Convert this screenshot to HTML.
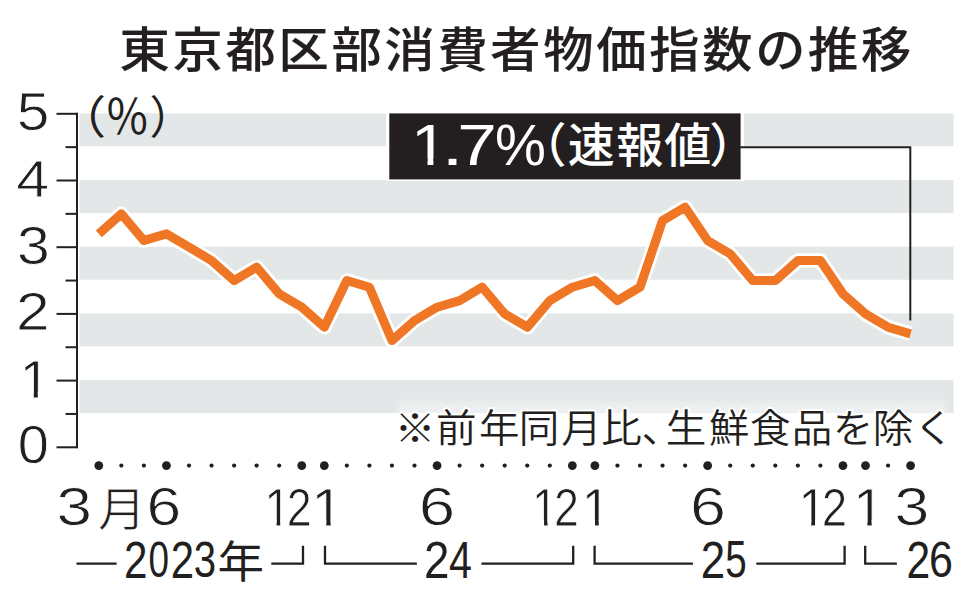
<!DOCTYPE html>
<html lang="ja"><head><meta charset="utf-8"><title>東京都区部消費者物価指数の推移</title><style>
html,body{margin:0;padding:0;background:#fff;}
svg{display:block;}
</style></head><body>
<svg width="978" height="600" viewBox="0 0 978 600">
<defs><clipPath id="k0" clipPathUnits="userSpaceOnUse"><rect x="-34.6" y="-81.16" width="162.33" height="75.21"/><rect x="-34.6" y="-5.95" width="57.36" height="27.05"/><rect x="33.49" y="-5.95" width="4.02" height="27.05"/><rect x="47.65" y="-5.95" width="80.08" height="27.05"/></clipPath><clipPath id="k1" clipPathUnits="userSpaceOnUse"><rect x="350.97" y="78.31" width="478.26" height="80.23"/><rect x="350.97" y="158.54" width="63.96" height="60"/><rect x="427.53" y="158.54" width="5.87" height="60"/><rect x="445.28" y="158.54" width="383.95" height="60"/></clipPath><filter id="soft" x="-5%" y="-50%" width="110%" height="200%"><feGaussianBlur stdDeviation="2.5"/></filter><clipPath id="k2" clipPathUnits="userSpaceOnUse"><rect x="204.24" y="444.4" width="202.49" height="75.62"/><rect x="204.24" y="520.02" width="62.88" height="60"/><rect x="276.64" y="520.02" width="3.56" height="60"/><rect x="289.19" y="520.02" width="117.54" height="60"/></clipPath><clipPath id="k3" clipPathUnits="userSpaceOnUse"><rect x="237.56" y="-81.6" width="163.2" height="75.62"/><rect x="237.56" y="-5.98" width="57.66" height="27.2"/><rect x="306.02" y="-5.98" width="4.04" height="27.2"/><rect x="320.25" y="-5.98" width="80.51" height="27.2"/></clipPath><clipPath id="k4" clipPathUnits="userSpaceOnUse"><rect x="472.12" y="444.4" width="201.91" height="75.62"/><rect x="472.12" y="520.02" width="62.77" height="60"/><rect x="544.07" y="520.02" width="3.43" height="60"/><rect x="556.16" y="520.02" width="117.87" height="60"/></clipPath><clipPath id="k5" clipPathUnits="userSpaceOnUse"><rect x="577" y="-81.6" width="163.2" height="75.62"/><rect x="577" y="-5.98" width="57.66" height="27.2"/><rect x="645.45" y="-5.98" width="4.04" height="27.2"/><rect x="659.69" y="-5.98" width="80.51" height="27.2"/></clipPath><clipPath id="k6" clipPathUnits="userSpaceOnUse"><rect x="738.46" y="444.4" width="203.21" height="75.62"/><rect x="738.46" y="520.02" width="62.98" height="60"/><rect x="811.31" y="520.02" width="3.69" height="60"/><rect x="824.31" y="520.02" width="117.36" height="60"/></clipPath><clipPath id="k7" clipPathUnits="userSpaceOnUse"><rect x="770.29" y="-81.6" width="163.2" height="75.62"/><rect x="770.29" y="-5.98" width="57.66" height="27.2"/><rect x="838.75" y="-5.98" width="4.04" height="27.2"/><rect x="852.98" y="-5.98" width="80.51" height="27.2"/></clipPath></defs>
<rect width="978" height="600" fill="#fff"/>
<rect x="79.5" y="113.3" width="874" height="33.05" fill="#e4e7e8"/>
<rect x="79.5" y="180" width="874" height="33.05" fill="#e4e7e8"/>
<rect x="79.5" y="246.7" width="874" height="33.05" fill="#e4e7e8"/>
<rect x="79.5" y="313.4" width="874" height="33.05" fill="#e4e7e8"/>
<rect x="79.5" y="380.1" width="874" height="33.05" fill="#e4e7e8"/>
<path d="M77 112.8 V448.3" stroke="#231f20" stroke-width="2" fill="none"/>
<path d="M56.5 447.3 H77" stroke="#231f20" stroke-width="2" fill="none"/>
<path d="M65.5 413.95 H77" stroke="#231f20" stroke-width="2" fill="none"/>
<path d="M56.5 380.6 H77" stroke="#231f20" stroke-width="2" fill="none"/>
<path d="M65.5 347.25 H77" stroke="#231f20" stroke-width="2" fill="none"/>
<path d="M56.5 313.9 H77" stroke="#231f20" stroke-width="2" fill="none"/>
<path d="M65.5 280.55 H77" stroke="#231f20" stroke-width="2" fill="none"/>
<path d="M56.5 247.2 H77" stroke="#231f20" stroke-width="2" fill="none"/>
<path d="M65.5 213.85 H77" stroke="#231f20" stroke-width="2" fill="none"/>
<path d="M56.5 180.5 H77" stroke="#231f20" stroke-width="2" fill="none"/>
<path d="M65.5 147.15 H77" stroke="#231f20" stroke-width="2" fill="none"/>
<path d="M56.5 113.8 H77" stroke="#231f20" stroke-width="2" fill="none"/>
<text transform="translate(0 130.37) scale(1.1129 1)" x="15.01" y="0" font-size="52.76" font-weight="400" font-family="'Liberation Sans','Noto Sans CJK JP',sans-serif" fill="#231f20" stroke="#fff" stroke-width="0.8">5</text>
<text transform="translate(0 197.1) scale(1.1244 1)" x="14.42" y="0" font-size="52.65" font-weight="400" font-family="'Liberation Sans','Noto Sans CJK JP',sans-serif" fill="#231f20" stroke="#fff" stroke-width="0.8">4</text>
<text transform="translate(0 263.62) scale(1.1133 1)" x="15.22" y="0" font-size="52.93" font-weight="400" font-family="'Liberation Sans','Noto Sans CJK JP',sans-serif" fill="#231f20" stroke="#fff" stroke-width="0.8">3</text>
<text transform="translate(0 330.4) scale(1.1404 1)" x="14.13" y="0" font-size="53.12" font-weight="400" font-family="'Liberation Sans','Noto Sans CJK JP',sans-serif" fill="#231f20" stroke="#fff" stroke-width="0.8">2</text>
<text transform="translate(0 397.5) scale(1.0079 1)" x="19.51" y="0" font-size="54.11" font-weight="400" font-family="'Liberation Sans','Noto Sans CJK JP',sans-serif" fill="#231f20" stroke="#fff" stroke-width="0.8" clip-path="url(#k0)">1</text>
<text transform="translate(0 463.06) scale(1.0396 1)" x="17.17" y="0" font-size="53.85" font-weight="400" font-family="'Liberation Sans','Noto Sans CJK JP',sans-serif" fill="#231f20" stroke="#fff" stroke-width="0.8">0</text>
<text font-family="'Liberation Sans','Noto Sans CJK JP',sans-serif" fill="#231f20"><tspan x="56.45" y="134.3" font-size="45.25" font-weight="400" textLength="49.71" lengthAdjust="spacingAndGlyphs">（</tspan><tspan x="104.95" y="133.88" font-size="47.32" font-weight="400" textLength="44.5" lengthAdjust="spacingAndGlyphs">％</tspan><tspan x="149.4" y="134.3" font-size="45.25" font-weight="400" textLength="44.27" lengthAdjust="spacingAndGlyphs">）</tspan></text>
<text transform="translate(0 66.8) scale(1.0600 1)" x="112.86 162.82 212.78 262.74 312.71 362.67 412.63 462.59 512.55 562.52 612.48 662.44 712.4 762.37 812.33" y="0" font-size="47.4" font-weight="500" font-family="'Liberation Sans','Noto Sans CJK JP',sans-serif" fill="#231f20" stroke="#231f20" stroke-width="0.2">東京都区部消費者物価指数の推移</text>
<polyline points="98.8,233.86 121.35,213.85 143.9,240.53 166.45,233.86 189,247.2 211.55,260.54 234.1,280.55 256.65,267.21 279.2,293.89 301.75,307.23 324.3,327.24 346.85,280.55 369.4,287.22 391.95,340.58 414.5,320.57 437.05,307.23 459.6,300.56 482.15,287.22 504.7,313.9 527.25,327.24 549.8,300.56 572.35,287.22 594.9,280.55 617.45,300.56 640,287.22 662.55,220.52 685.1,207.18 707.65,240.53 730.2,253.87 752.75,280.55 775.3,280.55 797.85,260.54 820.4,260.54 842.95,293.89 865.5,313.9 888.05,327.24 910.6,333.91" fill="none" stroke="#fff" stroke-width="14.5" stroke-linejoin="round"/>
<polyline points="98.8,233.86 121.35,213.85 143.9,240.53 166.45,233.86 189,247.2 211.55,260.54 234.1,280.55 256.65,267.21 279.2,293.89 301.75,307.23 324.3,327.24 346.85,280.55 369.4,287.22 391.95,340.58 414.5,320.57 437.05,307.23 459.6,300.56 482.15,287.22 504.7,313.9 527.25,327.24 549.8,300.56 572.35,287.22 594.9,280.55 617.45,300.56 640,287.22 662.55,220.52 685.1,207.18 707.65,240.53 730.2,253.87 752.75,280.55 775.3,280.55 797.85,260.54 820.4,260.54 842.95,293.89 865.5,313.9 888.05,327.24 910.6,333.91" fill="none" stroke="#ef7624" stroke-width="9" stroke-linejoin="round"/>
<rect x="386" y="110" width="358" height="71" fill="#fff"/>
<rect x="389.3" y="113.4" width="351.3" height="66" fill="#231f20"/>
<path d="M740 147.3 H910.3 V320.5" stroke="#231f20" stroke-width="2" fill="none"/>
<text font-family="'Liberation Sans','Noto Sans CJK JP',sans-serif" fill="#fff" clip-path="url(#k1)"><tspan x="410.97" y="164.8" font-size="56.87" font-weight="400" textLength="36.7" lengthAdjust="spacingAndGlyphs">1</tspan><tspan x="441.2" y="164.8" font-size="56.8" font-weight="400" textLength="22.52" lengthAdjust="spacingAndGlyphs">.</tspan><tspan x="457.26" y="164.8" font-size="56.87" font-weight="400" textLength="39.58" lengthAdjust="spacingAndGlyphs">7</tspan><tspan x="495" y="165.31" font-size="58" font-weight="400" textLength="50.9" lengthAdjust="spacingAndGlyphs">%</tspan><tspan x="519.43" y="162.42" font-size="47" font-weight="500">（</tspan><tspan x="567.8" y="162.47" font-size="47" font-weight="500">速</tspan><tspan x="616.21" y="161.89" font-size="47" font-weight="500">報</tspan><tspan x="664.29" y="162" font-size="47" font-weight="500">値</tspan><tspan x="709.22" y="162.42" font-size="47" font-weight="500">）</tspan></text>
<g filter="url(#soft)"><rect x="398" y="402" width="548" height="20" fill="#fff" fill-opacity="0.35"/></g>
<text transform="translate(0 442.1) scale(1.0400 1)" x="379.49 419.3 460.55 498.86 539.72 578.14 616.72 640.16 681.61 721.27 761.32 800.84 839.19 878.69" y="0" font-size="39" font-weight="350" font-family="'Liberation Sans','Noto Sans CJK JP',sans-serif" fill="#231f20" stroke="#fff" stroke-width="4" stroke-linejoin="round" paint-order="stroke">※前年同月比、生鮮食品を除く</text>
<circle cx="98.8" cy="465.6" r="4.4" fill="#231f20"/>
<circle cx="121.35" cy="465.6" r="2.1" fill="#231f20"/>
<circle cx="143.9" cy="465.6" r="2.1" fill="#231f20"/>
<circle cx="166.45" cy="465.6" r="4.4" fill="#231f20"/>
<circle cx="189" cy="465.6" r="2.1" fill="#231f20"/>
<circle cx="211.55" cy="465.6" r="2.1" fill="#231f20"/>
<circle cx="234.1" cy="465.6" r="2.1" fill="#231f20"/>
<circle cx="256.65" cy="465.6" r="2.1" fill="#231f20"/>
<circle cx="279.2" cy="465.6" r="2.1" fill="#231f20"/>
<circle cx="301.75" cy="465.6" r="4.4" fill="#231f20"/>
<circle cx="324.3" cy="465.6" r="4.4" fill="#231f20"/>
<circle cx="346.85" cy="465.6" r="2.1" fill="#231f20"/>
<circle cx="369.4" cy="465.6" r="2.1" fill="#231f20"/>
<circle cx="391.95" cy="465.6" r="2.1" fill="#231f20"/>
<circle cx="414.5" cy="465.6" r="2.1" fill="#231f20"/>
<circle cx="437.05" cy="465.6" r="4.4" fill="#231f20"/>
<circle cx="459.6" cy="465.6" r="2.1" fill="#231f20"/>
<circle cx="482.15" cy="465.6" r="2.1" fill="#231f20"/>
<circle cx="504.7" cy="465.6" r="2.1" fill="#231f20"/>
<circle cx="527.25" cy="465.6" r="2.1" fill="#231f20"/>
<circle cx="549.8" cy="465.6" r="2.1" fill="#231f20"/>
<circle cx="572.35" cy="465.6" r="4.4" fill="#231f20"/>
<circle cx="594.9" cy="465.6" r="4.4" fill="#231f20"/>
<circle cx="617.45" cy="465.6" r="2.1" fill="#231f20"/>
<circle cx="640" cy="465.6" r="2.1" fill="#231f20"/>
<circle cx="662.55" cy="465.6" r="2.1" fill="#231f20"/>
<circle cx="685.1" cy="465.6" r="2.1" fill="#231f20"/>
<circle cx="707.65" cy="465.6" r="4.4" fill="#231f20"/>
<circle cx="730.2" cy="465.6" r="2.1" fill="#231f20"/>
<circle cx="752.75" cy="465.6" r="2.1" fill="#231f20"/>
<circle cx="775.3" cy="465.6" r="2.1" fill="#231f20"/>
<circle cx="797.85" cy="465.6" r="2.1" fill="#231f20"/>
<circle cx="820.4" cy="465.6" r="2.1" fill="#231f20"/>
<circle cx="842.95" cy="465.6" r="4.4" fill="#231f20"/>
<circle cx="865.5" cy="465.6" r="4.4" fill="#231f20"/>
<circle cx="888.05" cy="465.6" r="2.1" fill="#231f20"/>
<circle cx="910.6" cy="465.6" r="4.4" fill="#231f20"/>
<text font-family="'Liberation Sans','Noto Sans CJK JP',sans-serif" fill="#231f20" stroke="#fff" stroke-width="0.8"><tspan x="56.43" y="525.47" font-size="52.86" font-weight="400" textLength="35.44" lengthAdjust="spacingAndGlyphs">3</tspan><tspan x="97.96" y="525.6" font-size="46.09" font-weight="400" textLength="47.97" lengthAdjust="spacingAndGlyphs">月</tspan></text>
<text transform="translate(0 525.47) scale(1.1798 1)" x="124.27" y="0" font-size="52.86" font-weight="400" font-family="'Liberation Sans','Noto Sans CJK JP',sans-serif" fill="#231f20" stroke="#fff" stroke-width="0.8">6</text>
<text font-family="'Liberation Sans','Noto Sans CJK JP',sans-serif" fill="#231f20" stroke="#fff" stroke-width="0.8" clip-path="url(#k2)"><tspan x="264.24" y="526" font-size="54.4" font-weight="400" textLength="26.68" lengthAdjust="spacingAndGlyphs">1</tspan><tspan x="286.73" y="526" font-size="53.62" font-weight="400" textLength="24.9" lengthAdjust="spacingAndGlyphs">2</tspan></text>
<text transform="translate(0 526) scale(1.0663 1)" x="291.96" y="0" font-size="54.4" font-weight="400" font-family="'Liberation Sans','Noto Sans CJK JP',sans-serif" fill="#231f20" stroke="#fff" stroke-width="0.8" clip-path="url(#k3)">1</text>
<text transform="translate(0 525.47) scale(1.2390 1)" x="337.89" y="0" font-size="52.86" font-weight="400" font-family="'Liberation Sans','Noto Sans CJK JP',sans-serif" fill="#231f20" stroke="#fff" stroke-width="0.8">6</text>
<text font-family="'Liberation Sans','Noto Sans CJK JP',sans-serif" fill="#231f20" stroke="#fff" stroke-width="0.8" clip-path="url(#k4)"><tspan x="532.12" y="526" font-size="54.4" font-weight="400" textLength="25.71" lengthAdjust="spacingAndGlyphs">1</tspan><tspan x="554.03" y="526" font-size="53.62" font-weight="400" textLength="24.9" lengthAdjust="spacingAndGlyphs">2</tspan></text>
<text transform="translate(0 526) scale(0.9219 1)" x="631.4" y="0" font-size="54.4" font-weight="400" font-family="'Liberation Sans','Noto Sans CJK JP',sans-serif" fill="#231f20" stroke="#fff" stroke-width="0.8" clip-path="url(#k5)">1</text>
<text transform="translate(0 525.47) scale(1.2221 1)" x="564.61" y="0" font-size="52.86" font-weight="400" font-family="'Liberation Sans','Noto Sans CJK JP',sans-serif" fill="#231f20" stroke="#fff" stroke-width="0.8">6</text>
<text font-family="'Liberation Sans','Noto Sans CJK JP',sans-serif" fill="#231f20" stroke="#fff" stroke-width="0.8" clip-path="url(#k6)"><tspan x="798.46" y="526" font-size="54.4" font-weight="400" textLength="27.65" lengthAdjust="spacingAndGlyphs">1</tspan><tspan x="821.68" y="526" font-size="53.62" font-weight="400" textLength="25.4" lengthAdjust="spacingAndGlyphs">2</tspan></text>
<text transform="translate(0 526) scale(1.0342 1)" x="824.69" y="0" font-size="54.4" font-weight="400" font-family="'Liberation Sans','Noto Sans CJK JP',sans-serif" fill="#231f20" stroke="#fff" stroke-width="0.8" clip-path="url(#k7)">1</text>
<text transform="translate(0 525.47) scale(1.1806 1)" x="757.65" y="0" font-size="52.86" font-weight="400" font-family="'Liberation Sans','Noto Sans CJK JP',sans-serif" fill="#231f20" stroke="#fff" stroke-width="0.8">3</text>
<path d="M76.5 563.6 H116.6" stroke="#231f20" stroke-width="2.3" fill="none"/>
<path d="M271.3 563.6 H303 V545.7" stroke="#231f20" stroke-width="2.3" fill="none"/>
<path d="M325 545.7 V563.6 H416.9" stroke="#231f20" stroke-width="2.3" fill="none"/>
<path d="M481.4 563.6 H573.2 V545.7" stroke="#231f20" stroke-width="2.3" fill="none"/>
<path d="M594.6 545.7 V563.6 H692.9" stroke="#231f20" stroke-width="2.3" fill="none"/>
<path d="M756.3 563.6 H844.6 V545.7" stroke="#231f20" stroke-width="2.3" fill="none"/>
<path d="M865.2 545.7 V563.6 H896.9" stroke="#231f20" stroke-width="2.3" fill="none"/>
<text font-family="'Liberation Sans','Noto Sans CJK JP',sans-serif" fill="#231f20"><tspan x="123.99" y="577.6" font-size="51.47" font-weight="400" textLength="23.47" lengthAdjust="spacingAndGlyphs">2</tspan><tspan x="148.43" y="577.09" font-size="50.74" font-weight="400" textLength="20.5" lengthAdjust="spacingAndGlyphs">0</tspan><tspan x="170.8" y="577.6" font-size="51.47" font-weight="400" textLength="23.35" lengthAdjust="spacingAndGlyphs">2</tspan><tspan x="193.69" y="577.09" font-size="50.74" font-weight="400" textLength="22.36" lengthAdjust="spacingAndGlyphs">3</tspan><tspan x="217.49" y="578.22" font-size="44.76" font-weight="400" textLength="46.5" lengthAdjust="spacingAndGlyphs">年</tspan></text>
<text font-family="'Liberation Sans','Noto Sans CJK JP',sans-serif" fill="#231f20"><tspan x="423.96" y="577.6" font-size="51.47" font-weight="400" textLength="25.49" lengthAdjust="spacingAndGlyphs">2</tspan><tspan x="449.07" y="577.6" font-size="52.22" font-weight="400" textLength="22.91" lengthAdjust="spacingAndGlyphs">4</tspan></text>
<text font-family="'Liberation Sans','Noto Sans CJK JP',sans-serif" fill="#231f20"><tspan x="700.7" y="577.6" font-size="51.47" font-weight="400" textLength="24.45" lengthAdjust="spacingAndGlyphs">2</tspan><tspan x="725.16" y="577.09" font-size="51.47" font-weight="400" textLength="21.43" lengthAdjust="spacingAndGlyphs">5</tspan></text>
<text font-family="'Liberation Sans','Noto Sans CJK JP',sans-serif" fill="#231f20"><tspan x="906.57" y="577.6" font-size="51.47" font-weight="400" textLength="23.71" lengthAdjust="spacingAndGlyphs">2</tspan><tspan x="929.05" y="577.09" font-size="50.74" font-weight="400" textLength="23.93" lengthAdjust="spacingAndGlyphs">6</tspan></text>
</svg>
</body></html>
